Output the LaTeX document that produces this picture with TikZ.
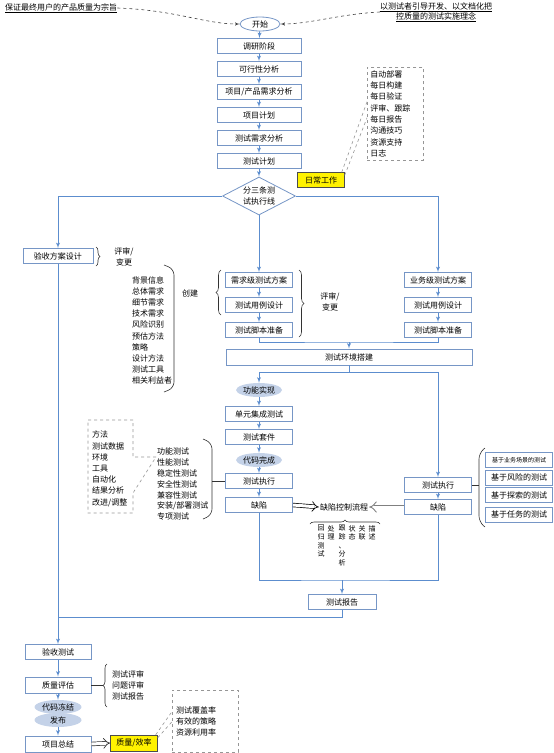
\documentclass[tikz,border=0pt]{standalone}
\usepackage{fontspec}
\setmainfont{Noto Sans CJK SC}
\usetikzlibrary{arrows,arrows.meta,calc,positioning,shapes.geometric,decorations.pathreplacing}
\definecolor{lineblue}{RGB}{92,141,206}
\definecolor{boxblue}{RGB}{118,150,198}
\definecolor{ellfill}{RGB}{196,210,232}
\definecolor{notegray}{RGB}{150,150,150}

\begin{document}
\begin{tikzpicture}[x=1pt,y=-1pt,font=\fontsize{8}{11.2}\selectfont]
\tikzset{box/.style = {shape=rectangle,draw=boxblue,line width=0.8pt,fill=white,minimum width=84pt,minimum height=15pt,inner sep=0pt}}
\tikzset{sbox/.style = {box,minimum width=67pt}}
\tikzset{oval/.style = {shape=ellipse,fill=ellfill,minimum width=46pt,minimum height=14pt,inner sep=0pt}}
\tikzset{hint/.style = {shape=rectangle,draw=black!70,fill=yellow,minimum width=47pt,minimum height=15pt,inner sep=0pt}}
\tikzset{note/.style = {draw=notegray,dashed,line width=0.6pt}}
\tikzset{list/.style = {align=left,anchor=north west,inner sep=0pt}}
\tikzset{edge/.style = {->,> = latex',draw=lineblue,line width=0.9pt}}
\tikzset{wire/.style = {draw=lineblue,line width=0.9pt}}
\tikzset{hook/.style = {draw=black!80,line width=0.6pt}}
\tikzset{fat/.style = {double,double distance=3pt,line width=0.7pt,-{Implies[scale=1.3]}}}
\tikzset{wish/.style = {->,> = latex',dashed,draw=black!75,line width=0.6pt}}

\useasboundingbox (0,0) rectangle (554,753);

\node[anchor=west,inner sep=0pt] (goal) at (5,8) {\underline{保证最终用户的产品质量为宗旨}};
\node[align=center,inner sep=0pt,font=\fontsize{8}{10}\selectfont] (idea) at (436,12) {\underline{以测试者引导开发、以文档化把}\\\underline{控质量的测试实施理念}};
\node[shape=ellipse,draw=boxblue,line width=0.8pt,fill=white,minimum width=40pt,minimum height=14pt,inner sep=0pt] (start) at (260,24) {开始};
\draw[wish] (goal.east) .. controls (175,10) and (205,24) .. (start.west);
\draw[wish] (idea.west) .. controls (340,14) and (310,24) .. (start.east);

\node[box] (survey) at (259,46) {调研阶段};
\node[box] (feas) at (259,69) {可行性分析};
\node[box] (req) at (259,92) {项目/产品需求分析};
\node[box] (plan) at (259,115) {项目计划};
\node[box] (treq) at (259,138) {测试需求分析};
\node[box] (tplan) at (259,161) {测试计划};
\node[shape=diamond,draw=boxblue,line width=0.8pt,fill=white,aspect=1.9,minimum width=73pt,minimum height=38pt,inner sep=0pt,align=center] (split) at (259,196) {分三条测\\试执行线};

\draw[edge] (start) -- (survey);
\draw[edge] (survey) -- (feas);
\draw[edge] (feas) -- (req);
\draw[edge] (req) -- (plan);
\draw[edge] (plan) -- (treq);
\draw[edge] (treq) -- (tplan);
\draw[edge] (tplan) -- (split);

\node[hint] (daily) at (321,180) {日常工作};
\node[note,list,inner xsep=3pt,text width=50pt,minimum height=93pt,font=\fontsize{8}{11.3}\selectfont] (dailynote) at (367,67) {自动部署\\每日构建\\每日验证\\评审、跟踪\\每日报告\\沟通技巧\\资源支持\\日志};
\draw[note] ($(daily.north east)+(-3,0)$) -- ($(dailynote.west)+(0,-12)$);
\draw[note] ($(daily.north east)+(0,3)$) -- ($(dailynote.west)+(0,4)$);

\node[box,minimum width=70pt] (accplan) at (58,256) {验收方案设计};
\node[sbox] (reqplan) at (259,280) {需求级测试方案};
\node[sbox] (reqcase) at (259,305) {测试用例设计};
\node[sbox] (reqscript) at (259,330) {测试脚本准备};
\node[sbox] (bizplan) at (438,280) {业务级测试方案};
\node[sbox] (bizcase) at (438,305) {测试用例设计};
\node[sbox] (bizscript) at (438,330) {测试脚本准备};

\draw[edge] (split.west) -| (accplan.north);
\draw[edge] (split.east) -| (bizplan.north);
\draw[edge] (split.south) -- (reqplan.north);
\draw[edge] (reqplan) -- (reqcase);
\draw[edge] (reqcase) -- (reqscript);
\draw[edge] (bizplan) -- (bizcase);
\draw[edge] (bizcase) -- (bizscript);

\draw[hook,decorate,decoration={brace,amplitude=4pt}] (96,247) -- (96,266);
\node[align=center,inner sep=0pt] (accrev) at (124,257) {评审/\\变更};
\node[list,font=\fontsize{8}{11.2}\selectfont] (bginfo) at (132,276) {背景信息\\总体需求\\细节需求\\技术需求\\风险识别\\预估方法\\策略\\设计方法\\测试工具\\相关利益者};
\draw[hook,rounded corners=6pt] (164,265) -- (174,269) -- (174,388) -- (164,392);
\node[inner sep=0pt] (create) at (190,293) {创建};
\draw[hook,decorate,decoration={brace,amplitude=5pt}] (221,315) -- (221,270);
\draw[hook,decorate,decoration={brace,amplitude=5pt}] (299,270) -- (299,337);
\node[align=center,inner sep=0pt] (midrev) at (330,302) {评审/\\变更};

\node[box,minimum width=246pt,minimum height=16pt] (env) at (349,357) {测试环境搭建};
\coordinate (j1) at (349,342);
\draw[wire] (reqscript.south) |- (j1) -| (bizscript.south);
\draw[edge] (j1) -- (env.north);

\node[oval] (func) at (259,390) {功能实现};
\node[sbox] (unit) at (259,414) {单元集成测试};
\node[sbox] (suite) at (259,437) {测试套件};
\node[oval] (coded) at (259,460) {代码完成};
\node[sbox] (execM) at (259,481) {测试执行};
\node[sbox] (defM) at (259,505) {缺陷};
\node[sbox] (execR) at (438,485) {测试执行};
\node[sbox] (defR) at (438,507) {缺陷};

\coordinate (j2) at (349,372);
\draw[wire] (env.south) -- (j2);
\draw[edge] (j2) -| (func.north);
\draw[edge] (j2) -| (execR.north);
\draw[edge] (func) -- (unit);
\draw[edge] (unit) -- (suite);
\draw[edge] (suite) -- (coded);
\draw[edge] (coded) -- (execM);
\draw[edge] (execM) -- (defM);
\draw[edge] (execR) -- (defR);

\draw[note] (88,420) -- (133,420) -- (133,457) -- (156,457) -- (133,493) -- (133,513) -- (88,513) -- cycle;
\node[list,font=\fontsize{8}{11.2}\selectfont] (tools) at (92,431) {方法\\测试数据\\环境\\工具\\自动化\\结果分析\\改进/调整};
\node[list,font=\fontsize{8}{10.8}\selectfont] (kinds) at (157,448) {功能测试\\性能测试\\稳定性测试\\安全性测试\\兼容性测试\\安装/部署测试\\专项测试};
\draw[hook,rounded corners=6pt] (203,439) -- (212,443) -- (212,515) -- (203,519);
\draw[hook] (212,481) -- (execM.west);

\node[sbox,font=\fontsize{6}{7}\selectfont] (r1) at (519,460) {基于业务场景的测试};
\node[sbox] (r2) at (519,477.5) {基于风险的测试};
\node[sbox] (r3) at (519,495) {基于探索的测试};
\node[sbox] (r4) at (519,514.5) {基于任务的测试};
\draw[hook,rounded corners=6pt] (485,448) -- (479,453) -- (479,522) -- (485,527);
\draw[hook] (execR.east) -- (479,485);

\node[inner sep=1pt] (flow) at (344,507) {缺陷控制流程};
\draw[fat,draw=black] (defM.east) -- (flow.west);
\draw[fat,draw=gray,line width=0.9pt] (defR.west) -- (flow.east);
\draw[hook,decorate,decoration={brace,amplitude=4pt}] (310,524) -- (380,524);
\node[anchor=north,align=center,inner sep=0pt,font=\fontsize{7}{8.7}\selectfont] (v1) at (321,525) {回\\归\\测\\试};
\node[anchor=north,align=center,inner sep=0pt,font=\fontsize{7}{8.7}\selectfont] (v2) at (331,525) {处\\理};
\node[anchor=north,align=center,inner sep=0pt,font=\fontsize{7}{8.7}\selectfont] (v3) at (342,525) {跟\\踪\\、\\分\\析};
\node[anchor=north,align=center,inner sep=0pt,font=\fontsize{7}{8.7}\selectfont] (v4) at (352,525) {状\\态};
\node[anchor=north,align=center,inner sep=0pt,font=\fontsize{7}{8.7}\selectfont] (v5) at (362,525) {关\\联};
\node[anchor=north,align=center,inner sep=0pt,font=\fontsize{7}{8.7}\selectfont] (v6) at (372,525) {描\\述};

\node[sbox,minimum width=68pt] (report) at (342,602) {测试报告};
\coordinate (j3) at (342,580);
\draw[wire] (defM.south) |- (j3) -| (defR.south);
\draw[edge] (j3) -- (report.north);

\node[box,minimum width=66pt] (acctest) at (58,652) {验收测试};
\node[box,minimum width=66pt,minimum height=16pt] (qa) at (58,685) {质量评估};
\node[oval,minimum width=47pt,minimum height=14pt] (freeze) at (58,707) {代码冻结};
\node[oval,minimum width=47pt,minimum height=14pt] (release) at (58,720) {发布};
\node[box,minimum width=66pt,minimum height=16pt] (summary) at (58,744) {项目总结};
\node[hint,minimum height=16pt] (qe) at (134,743) {质量/效率};

\coordinate (j4) at (58,617);
\draw[wire] (report.south) |- (j4);
\draw[edge] (accplan.south) -- (acctest.north);
\draw[edge] (acctest) -- (qa);
\draw[edge] (qa) -- (freeze);
\draw[edge] (release) -- (summary);

\draw[hook] (qa.east) -- (103,685);
\draw[hook,decorate,decoration={brace,amplitude=4pt}] (107,707) -- (107,664);
\node[list,font=\fontsize{8}{11}\selectfont] (qalist) at (112,671) {测试评审\\问题评审\\测试报告};

\draw[fat,draw=black!80] (summary.east) -- (qe.west);
\node[note,align=left,text width=58pt,inner xsep=4pt,minimum height=62pt,font=\fontsize{8}{11}\selectfont] (qenote) at (205,721) {测试覆盖率\\有效的策略\\资源利用率};
\draw[note] ($(qe.north east)+(-2,0)$) -- ($(qenote.west)+(0,-9)$);
\draw[note] ($(qe.north east)+(0,3)$) -- ($(qenote.west)+(0,1)$);

\end{tikzpicture}
\end{document}
